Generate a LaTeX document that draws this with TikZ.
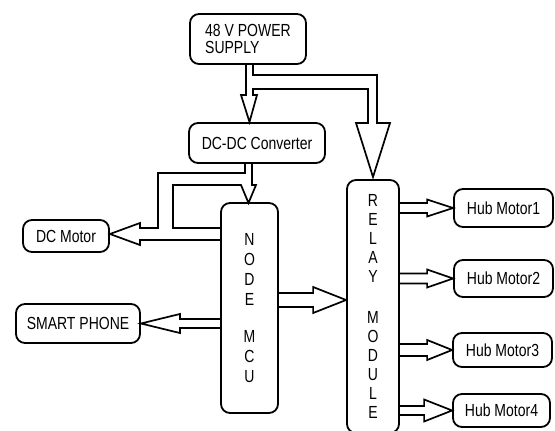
\documentclass[tikz,border=0pt]{standalone}
\usepackage{fontspec}
\setmainfont[FakeStretch=0.8]{Liberation Sans}
\usetikzlibrary{calc}
\tikzset{
  box/.style={draw, line width=1.8pt, rounded corners=9pt, inner sep=0pt,
    font=\fontsize{17.5}{17.5}\selectfont},
  conn/.style={draw, line width=1.7pt, line join=miter},
}
% hollow block arrow: #1 start, #2 tip, #3 shaft half width, #4 head half width, #5 head length
\newcommand\blockarrow[5]{%
  \path ($(#2)!#5pt!(#1)$) coordinate (ba-b);
  \draw[conn] ($(#1)!#3pt!90:(#2)$) -- ($(ba-b)!#3pt!90:(#2)$)
    -- ($(ba-b)!#4pt!90:(#2)$) -- (#2) -- ($(ba-b)!#4pt!-90:(#2)$)
    -- ($(ba-b)!#3pt!-90:(#2)$) -- ($(#1)!#3pt!-90:(#2)$);
}
\begin{document}
\begin{tikzpicture}[x=1pt,y=-1pt]
\useasboundingbox (0,0) rectangle (555,431);
% boxes
\node[box, minimum width=116pt, minimum height=50pt, align=left] (ps) at (248,39) {48 V POWER\\SUPPLY};
\node[box, minimum width=136pt, minimum height=40pt] (dc) at (257,143) {DC-DC Converter};
\node[box, minimum width=57pt, minimum height=210pt, align=center,
  font=\fontsize{17.5}{20}\selectfont] (mcu) at (249.5,308) {N\\O\\D\\E\\[17pt]M\\C\\U};
\node[box, minimum width=52pt, minimum height=253pt, align=center,
  font=\fontsize{17.5}{19}\selectfont] (relay) at (373,306.5) {R\\E\\L\\A\\Y\\[22pt]M\\O\\D\\U\\L\\E};
\node[box, minimum width=86pt, minimum height=32pt] (dcm) at (66,236) {DC Motor};
\node[box, minimum width=124pt, minimum height=39pt] (sp) at (78,323.5) {SMART PHONE};
\node[box, minimum width=99pt, minimum height=38pt] (h1) at (503.5,208) {Hub Motor1};
\node[box, minimum width=99pt, minimum height=37pt] (h2) at (503.5,278.5) {Hub Motor2};
\node[box, minimum width=99pt, minimum height=34pt] (h3) at (502.5,350) {Hub Motor3};
\node[box, minimum width=97pt, minimum height=33pt] (h4) at (501.5,410.5) {Hub Motor4};
% power supply -> DC-DC converter, branch -> relay
\draw[conn] (246,64) -- (246,95) -- (241,95) -- (249.5,122) -- (257,95) -- (253,95)
  -- (253,89) -- (368,89) -- (368,123) -- (356,123) -- (373,177) -- (390,123)
  -- (377,123) -- (377,75) -- (253,75) -- (253,64);
% DC-DC converter -> NodeMCU, branch -> DC motor
\draw[conn] (245,163) -- (245,173) -- (158,173) -- (158,228) -- (140,228) -- (140,223)
  -- (dcm.east |- 0,234) -- (140,245) -- (140,240) -- (mcu.west |- 0,240);
\draw[conn] (mcu.west |- 0,228) -- (173,228) -- (173,185) -- (241,185) -- (248.5,203)
  -- (256,185) -- (252,185) -- (252,163);
% NodeMCU -> smart phone
\coordinate (spa) at (mcu.west |- sp.east);
\blockarrow{spa}{sp.east}{4.5}{9.5}{39}
% NodeMCU -> relay
\coordinate (m1) at ($(mcu.east)+(0,-8)$);
\coordinate (r1) at (relay.west |- m1);
\blockarrow{m1}{r1}{7}{13}{33}
% relay -> hub motors
\coordinate (q1) at (relay.east |- h1.west);
\coordinate (q2) at (relay.east |- h2.west);
\coordinate (q3) at (relay.east |- h3.west);
\coordinate (q4) at (relay.east |- h4.west);
\blockarrow{q1}{h1.west}{5}{8.5}{26}
\blockarrow{q2}{h2.west}{5}{9}{26}
\blockarrow{q3}{h3.west}{6}{10}{25}
\blockarrow{q4}{h4.west}{4.5}{11}{28}
\end{tikzpicture}
\end{document}
